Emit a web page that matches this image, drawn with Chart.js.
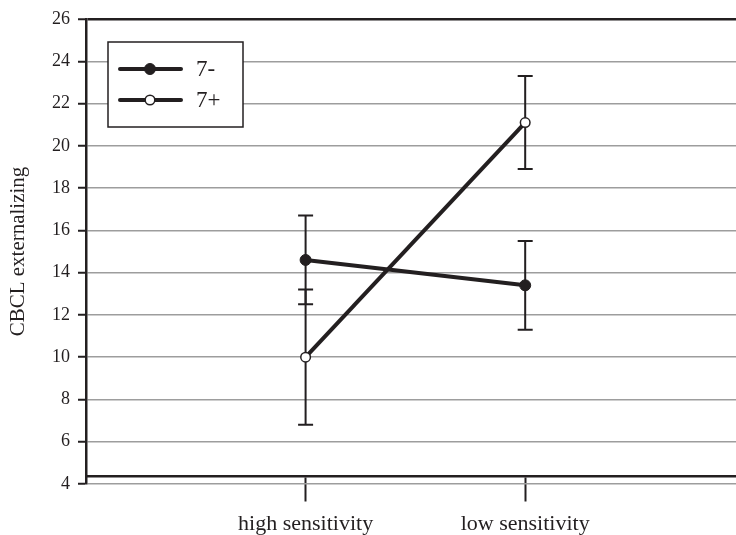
<!DOCTYPE html>
<html><head><meta charset="utf-8">
<script src="https://cdn.jsdelivr.net/npm/chart.js@4.4.1/dist/chart.umd.min.js"></script>
<style>html,body{margin:0;padding:0;background:#fff;overflow:hidden}</style>
</head><body>
<canvas id="c" width="736" height="535" style="width:736px;height:535px;display:block"></canvas>
<script>
const categories = ['high sensitivity', 'low sensitivity'];
const seriesNames = ['7-', '7+'];
const means7minus = [14.6, 13.4];
const errors7minus = [2.1, 2.1];
const means7plus = [10.0, 21.1];
const errors7plus = [3.2, 2.2];
const yMin = 4, yMax = 26, yStep = 2;
const yTitle = 'CBCL externalizing';

const INK = '#231f20';
const GRID = '#9d9d9d';
const SERIF = "'Liberation Serif', 'DejaVu Serif', serif";

function pts(means, errs) {
  return means.map((m, i) => ({ x: i + 1, y: m, err: errs[i] }));
}

const errorBars = {
  id: 'errorBars',
  beforeDatasetsDraw(chart) {
    const { ctx, scales: { x, y } } = chart;
    ctx.save();
    ctx.strokeStyle = INK;
    ctx.lineWidth = 2;
    chart.data.datasets.forEach(ds => {
      ds.data.forEach(p => {
        const px = x.getPixelForValue(p.x);
        const top = y.getPixelForValue(p.y + p.err);
        const bot = y.getPixelForValue(p.y - p.err);
        ctx.beginPath();
        ctx.moveTo(px, top); ctx.lineTo(px, bot);
        ctx.moveTo(px - 7.5, top); ctx.lineTo(px + 7.5, top);
        ctx.moveTo(px - 7.5, bot); ctx.lineTo(px + 7.5, bot);
        ctx.stroke();
      });
    });
    ctx.restore();
  }
};

const boxLegend = {
  id: 'boxLegend',
  afterDraw(chart) {
    const { ctx, chartArea } = chart;
    const bx = chartArea.left + 22, by = chartArea.top + 23, bw = 135, bh = 85;
    ctx.save();
    ctx.fillStyle = '#fff';
    ctx.fillRect(bx, by, bw, bh);
    ctx.strokeStyle = INK;
    ctx.lineWidth = 1.5;
    ctx.strokeRect(bx, by, bw, bh);
    chart.data.datasets.forEach((ds, i) => {
      const ly = by + 27 + i * 31;
      ctx.beginPath();
      ctx.strokeStyle = INK;
      ctx.lineWidth = 4;
      ctx.lineCap = 'round';
      ctx.moveTo(bx + 12, ly); ctx.lineTo(bx + 73, ly);
      ctx.stroke();
      ctx.beginPath();
      ctx.arc(bx + 42, ly, ds.pointRadius, 0, Math.PI * 2);
      ctx.fillStyle = ds.pointBackgroundColor;
      ctx.fill();
      ctx.lineWidth = ds.pointBorderWidth;
      ctx.stroke();
      ctx.fillStyle = INK;
      ctx.font = '23px ' + SERIF;
      ctx.textBaseline = 'middle';
      ctx.textAlign = 'left';
      ctx.fillText(ds.label, bx + 88, ly + 1);
    });
    ctx.restore();
  }
};

new Chart(document.getElementById('c'), {
  type: 'line',
  data: {
    datasets: [
      {
        label: seriesNames[0],
        data: pts(means7minus, errors7minus),
        borderColor: INK, borderWidth: 4,
        pointRadius: 5.5, pointBackgroundColor: INK, pointBorderColor: INK, pointBorderWidth: 1,
        tension: 0
      },
      {
        label: seriesNames[1],
        data: pts(means7plus, errors7plus),
        borderColor: INK, borderWidth: 4,
        pointRadius: 4.8, pointBackgroundColor: '#ffffff', pointBorderColor: INK, pointBorderWidth: 1.5,
        tension: 0
      }
    ]
  },
  options: {
    responsive: false,
    animation: false,
    devicePixelRatio: 1,
    layout: { autoPadding: false, padding: { top: 19, bottom: 51, left: 0, right: 0 } },
    plugins: { legend: { display: false }, tooltip: { enabled: false } },
    scales: {
      x: {
        type: 'linear',
        min: 0, max: 2.96,
        position: { y: 4.35 },
        afterBuildTicks: s => { s.ticks = categories.map((c, i) => ({ value: i + 1 })); },
        afterFit: s => { s.paddingLeft = 0; s.paddingRight = 0; },
        ticks: {
          callback: v => categories[Math.round(v) - 1] || '',
          font: { family: SERIF, size: 22 }, color: INK, padding: 10, maxRotation: 0, autoSkip: false
        },
        grid: { drawOnChartArea: false, drawTicks: true, tickLength: 24, tickColor: INK, tickWidth: 2 },
        border: { color: INK, width: 2.5 }
      },
      y: {
        min: yMin, max: yMax,
        afterFit: s => { s.width = 86; },
        ticks: { stepSize: yStep, font: { family: SERIF, size: 18 }, color: INK, padding: 8 },
        grid: {
          color: c => (c.tick && c.tick.value === yMax) ? INK : GRID,
          lineWidth: c => (c.tick && c.tick.value === yMax) ? 2.5 : 1.5,
          tickColor: INK, tickLength: 8, tickWidth: 2
        },
        border: { color: INK, width: 2.5 },
        title: { display: true, text: yTitle, font: { family: SERIF, size: 21 }, color: INK, padding: { top: 6, bottom: 0 } }
      }
    }
  },
  plugins: [errorBars, boxLegend]
});
</script>
</body></html>
